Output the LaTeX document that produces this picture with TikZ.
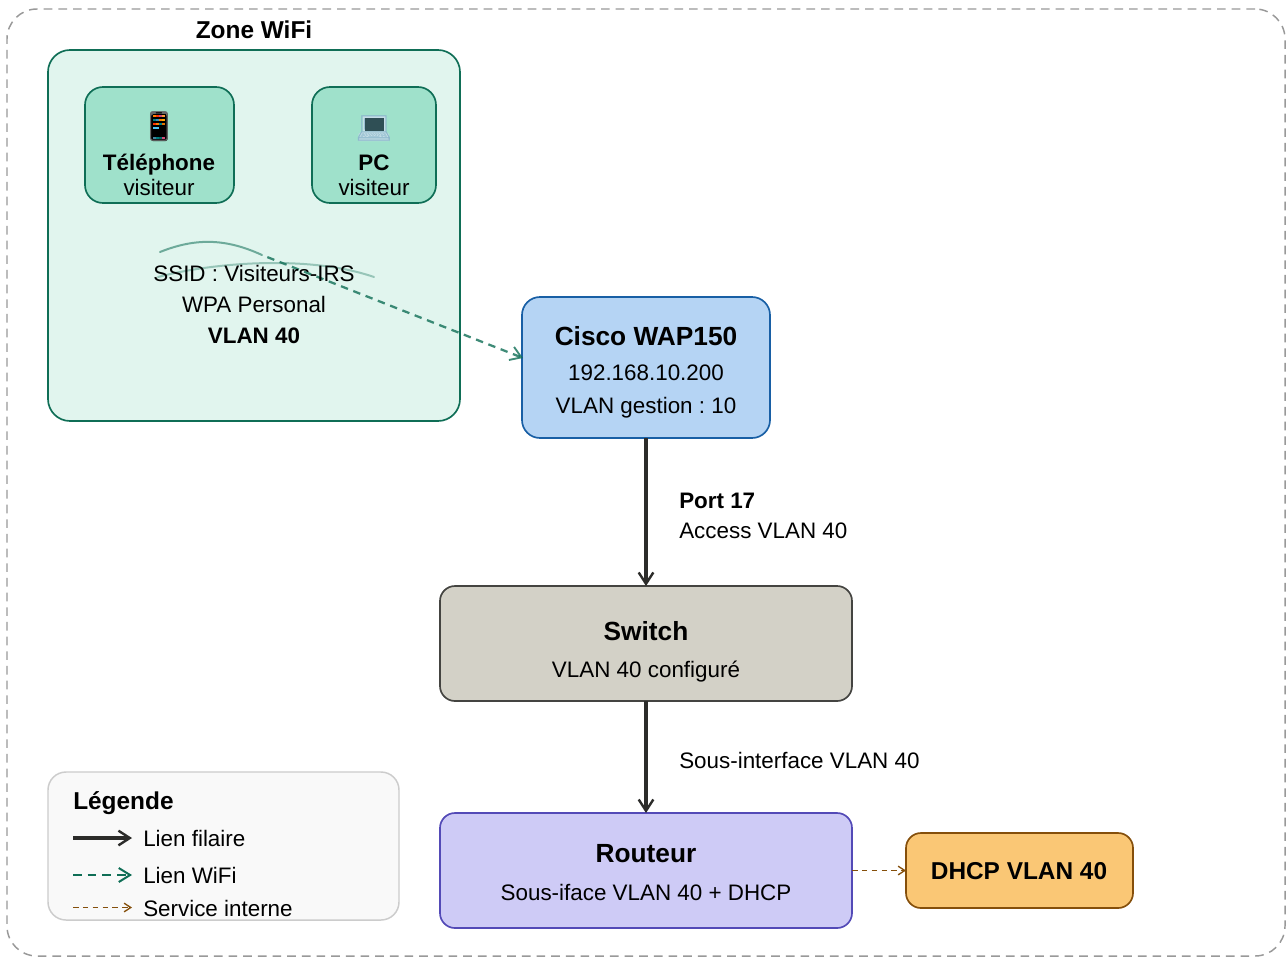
\documentclass[tikz,border=0pt]{standalone}
\usepackage{fontspec}
\setmainfont{Liberation Sans}
\newfontfamily\emojifont{Noto Emoji}
\usetikzlibrary{arrows.meta}
\frenchspacing
\definecolor{zonefill}{HTML}{E1F5EE}
\definecolor{zoneline}{HTML}{0F6E56}
\definecolor{devfill}{HTML}{9FE1CB}
\definecolor{wapfill}{HTML}{B5D4F4}
\definecolor{wapline}{HTML}{185FA5}
\definecolor{swfill}{HTML}{D3D1C7}
\definecolor{swline}{HTML}{444441}
\definecolor{rtfill}{HTML}{CECBF6}
\definecolor{rtline}{HTML}{534AB7}
\definecolor{dhfill}{HTML}{FAC775}
\definecolor{dhline}{HTML}{854F0B}
\definecolor{wired}{HTML}{2C2C2A}
\definecolor{legfill}{HTML}{F9F9F9}
\definecolor{legline}{HTML}{CCCCCC}
\definecolor{lapbase}{HTML}{C4DDE6}
\definecolor{lapedge}{HTML}{8DB9CC}
\definecolor{lapscreen}{HTML}{2F4F55}
\tikzset{
  px/.style={x=0.75pt,y=-0.75pt},
  boxstyle/.style={draw,rectangle,line width=1.25pt,inner sep=0pt,outer sep=0pt},
  body/.style={anchor=base,inner sep=0pt,font=\fontsize{16.8}{20}\selectfont,text=black},
  head/.style={anchor=base,inner sep=0pt,font=\fontsize{18.3}{22}\selectfont\bfseries,text=black},
  bighead/.style={anchor=base,inner sep=0pt,font=\fontsize{19.7}{24}\selectfont\bfseries,text=black},
  bodybold/.style={anchor=base,inner sep=0pt,font=\fontsize{16.8}{20}\selectfont\bfseries,text=black},
  leftbody/.style={body,anchor=base west},
  wiredline/.style={draw=wired,line width=2.3pt,-{Straight Barb[length=8.5pt,width=11pt,line width=1.8pt]}},
  wifiline/.style={draw=zoneline,draw opacity=.8,line width=1.7pt,dash pattern=on 5.6pt off 4.3pt,dash phase=5.6pt,-{Straight Barb[length=8pt,width=10.5pt,line width=1.4pt]}},
  wifilegend/.style={draw=zoneline,line width=1.7pt,dash pattern=on 6.5pt off 4.5pt,-{Straight Barb[length=8.5pt,width=10.5pt,line width=1.5pt]}},
  serviceline/.style={draw=dhline,line width=1.25pt,dash pattern=on 4.2pt off 3.2pt,-{Straight Barb[length=5pt,width=6.5pt,line width=1pt]}},
  wave/.style={draw=zoneline,line width=1.5pt,line cap=round},
}
\newcommand{\boxat}[7]{% name, x1,y1,x2,y2, radius, style
  \node[boxstyle,#7,rounded corners=#6*0.75pt,minimum width=(#4-#2)*0.75pt,minimum height=(#5-#3)*0.75pt] (#1) at ({(#2+#4)/2},{(#3+#5)/2}) {};
}
\begin{document}
\begin{tikzpicture}[px]
\useasboundingbox (0,0) rectangle (1287,957);
\fill[white] (0,0) rectangle (1287,957);
\boxat{outer}{7}{9}{1285}{956}{30}{draw=black!40,line width=1.1pt,dash pattern=on 6.5pt off 4.5pt}
\boxat{zone}{48}{50}{460}{421}{22}{fill=zonefill,draw=zoneline}
\node[head] (zonetitle) at (254,38) {Zone WiFi};
\boxat{phone}{85}{87}{234}{203}{18}{fill=devfill,draw=zoneline}
\boxat{pc}{312}{87}{436}{203}{18}{fill=devfill,draw=zoneline}
% phone emoji: glyph over a dark body with coloured rows
\fill[black,rounded corners=1.5pt] (151,112) rectangle (167.5,141);
\node[anchor=center,inner sep=0pt,font=\emojifont\fontsize{22}{24}\selectfont,text=black!60] (phoneicon) at (159,126) {📱};
\fill[black] (152.5,114) rectangle (165.5,139);
\fill[orange]        (153,114.5) rectangle (156,117);
\fill[red!60!orange] (156,114.5) rectangle (159,117);
\fill[purple!70]     (159,114.5) rectangle (162,117);
\fill[orange!80]     (162,114.5) rectangle (165,117);
\fill[teal]          (153,118.5) rectangle (156,121);
\fill[cyan!70!black] (156,118.5) rectangle (159,121);
\fill[orange]        (159,118.5) rectangle (162,121);
\fill[orange!70!yellow] (162,118.5) rectangle (165,121);
\fill[red!60!orange] (153,122.5) rectangle (156,125);
\fill[orange]        (156,122.5) rectangle (159,125);
\fill[teal]          (159,122.5) rectangle (162,125);
\fill[orange!90!black] (162,122.5) rectangle (165,125);
\fill[cyan!70]       (153,126.5) rectangle (159,129);
\fill[cyan!60!black] (153,136.5) rectangle (156,139);
\fill[teal]          (156,136.5) rectangle (159,139);
\fill[teal!80!black] (159,136.5) rectangle (162,139);
\fill[purple!70]     (162,136.5) rectangle (165,139);
% laptop emoji: glyph over screen and base colours
\fill[lapbase] (358.5,134) -- (363,131) -- (385,131) -- (389,134) -- (389,141) -- (358.5,141) -- cycle;
\fill[lapbase] (363,116) rectangle (385.5,133);
\node[anchor=center,inner sep=0pt,font=\emojifont\fontsize{22}{24}\selectfont,text=lapedge] (pcicon) at (374,128) {💻};
\fill[lapscreen] (365,118) rectangle (384,131);
\node[bodybold] (phonet) at (159,170) {Téléphone};
\node[body] (phonev) at (159,195) {visiteur};
\node[bodybold] (pct) at (374,170) {PC};
\node[body] (pcv) at (374,195) {visiteur};
\coordinate (wifistart) at (262,255);
\coordinate (wifiend) at (523,358);
\boxat{wap}{522}{297}{770}{438}{18}{fill=wapfill,draw=wapline}
\draw[wifiline] (wifistart) -- (wifiend);
\draw[wave,draw opacity=.55] (160,252) .. controls (195,238) and (225,238) .. (262,255);
\draw[wave,draw opacity=.35] (158,277) .. controls (215,262) and (310,255) .. (374,277);
\node[body] (ssid) at (254,281) {SSID : Visiteurs-IRS};
\node[body] (wpa) at (254,312) {WPA Personal};
\node[bodybold] (vlan) at (254,343) {VLAN 40};
\node[bighead] (wapt) at (646,345) {Cisco WAP150};
\node[body] (wapip) at (646,380) {192.168.10.200};
\node[body] (wapv) at (646,413) {VLAN gestion : 10};
\boxat{switch}{440}{586}{852}{701}{15}{fill=swfill,draw=swline}
\node[bighead] (swt) at (646,640) {Switch};
\node[body] (swv) at (646,677) {VLAN 40 configuré};
\boxat{router}{440}{813}{852}{928}{15}{fill=rtfill,draw=rtline}
\node[bighead] (rtt) at (646,862) {Routeur};
\node[body] (rtv) at (646,900) {Sous-iface VLAN 40 + DHCP};
\boxat{dhcp}{906}{833}{1133}{908}{15}{fill=dhfill,draw=dhline}
\node[head] (dht) at (1019,879) {DHCP VLAN 40};
\draw[wiredline] (wap) -- (switch);
\draw[wiredline] (switch) -- (router);
\draw[serviceline] (router.east) -- (dhcp.west);
\node[bodybold,anchor=base west] (port) at (679,508) {Port 17};
\node[leftbody] (access) at (679,538.5) {Access VLAN 40};
\node[leftbody] (sousint) at (679,768) {Sous-interface VLAN 40};
\boxat{legend}{48}{772}{399}{920}{18}{fill=legfill,draw=legline,line width=1.1pt}
\node[head,anchor=base west] (legt) at (73,809) {Légende};
\coordinate (l1a) at (73,838); \coordinate (l1b) at (132,838);
\coordinate (l2a) at (73,875); \coordinate (l2b) at (132,875);
\coordinate (l3a) at (73,907.5); \coordinate (l3b) at (132,907.5);
\draw[wiredline] (l1a) -- (l1b);
\draw[wifilegend] (l2a) -- (l2b);
\draw[serviceline] (l3a) -- (l3b);
\node[leftbody] (l1) at (143,846) {Lien filaire};
\node[leftbody] (l2) at (143,883) {Lien WiFi};
\node[leftbody] (l3) at (143,916) {Service interne};
\end{tikzpicture}
\end{document}
